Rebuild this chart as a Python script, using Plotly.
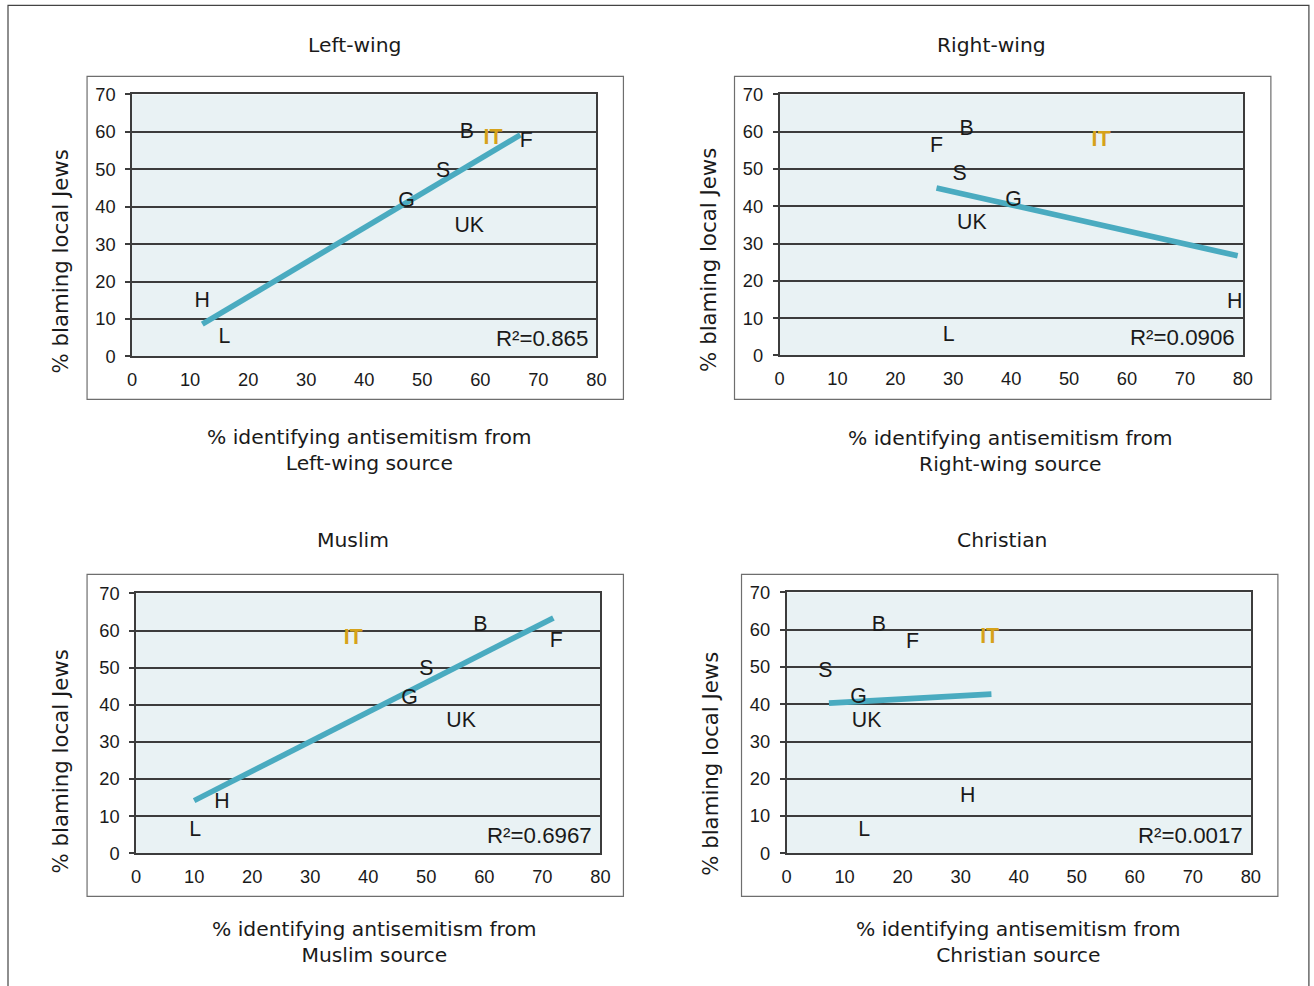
import plotly.graph_objects as go

# Layout is specified in target-image pixels; to_fig_* convert those into
# figure pixels for the page placement/scaling used by the renderer.
SX, SY = 0.988, 0.979
BX, BY = 5.0, 9.6
W, H = 1326, 998
K = 1 / 0.985  # size factor for fonts and strokes

# ---- data -------------------------------------------------------------
countries = ["B", "IT", "F", "S", "G", "UK", "H", "L"]

left_x = [57.7, 62.2, 67.9, 53.6, 47.3, 58.1, 12.1, 15.9]
left_y = [59.8, 58.2, 57.4, 49.4, 41.4, 34.7, 14.7, 5.1]
left_trend_x = [12.1, 66.9]
left_trend_y = [8.6, 59.2]

right_x = [32.3, 55.5, 27.1, 31.1, 40.4, 33.2, 78.6, 29.2]
right_y = [60.6, 57.5, 56.1, 48.4, 41.4, 35.3, 14.2, 5.3]
right_trend_x = [27.1, 79.1]
right_trend_y = [44.9, 26.7]

muslim_x = [59.3, 37.4, 72.4, 50.0, 47.1, 56.0, 14.8, 10.2]
muslim_y = [61.3, 57.8, 57.0, 49.5, 41.7, 35.5, 13.7, 6.2]
muslim_trend_x = [10.0, 71.9]
muslim_trend_y = [14.2, 63.4]

christian_x = [15.9, 35.0, 21.7, 6.7, 12.4, 13.8, 31.2, 13.4]
christian_y = [61.1, 57.9, 56.6, 48.8, 41.8, 35.4, 15.3, 6.2]
christian_trend_x = [7.3, 35.3]
christian_trend_y = [40.3, 42.7]

r2_labels = ["R\u00b2=0.865", "R\u00b2=0.0906", "R\u00b2=0.6967", "R\u00b2=0.0017"]
titles = ["Left-wing", "Right-wing", "Muslim", "Christian"]
sources = ["Left-wing", "Right-wing", "Muslim", "Christian"]
y_title = "% blaming local Jews"

# ---- layout geometry (image pixels) -----------------------------------
panels = [
    dict(x=left_x, y=left_y, tx=left_trend_x, ty=left_trend_y,
         plot=(132, 596, 93, 355), box=(87, 623, 75, 398),
         title=(354, 44), xt=(369, 435), yt=(60, 260)),
    dict(x=right_x, y=right_y, tx=right_trend_x, ty=right_trend_y,
         plot=(779, 1242, 93, 354), box=(734, 1270, 75, 398),
         title=(991, 44), xt=(1010, 436), yt=(708, 258)),
    dict(x=muslim_x, y=muslim_y, tx=muslim_trend_x, ty=muslim_trend_y,
         plot=(136, 600, 592, 852), box=(87, 623, 573, 895),
         title=(353, 539), xt=(374, 927), yt=(60, 760)),
    dict(x=christian_x, y=christian_y, tx=christian_trend_x, ty=christian_trend_y,
         plot=(786, 1250, 591, 852), box=(741, 1277, 573, 895),
         title=(1001, 539), xt=(1018, 927), yt=(710, 762)),
]

FONT = "Liberation Sans, Arial, sans-serif"
TITLE_FONT = "DejaVu Sans, sans-serif"
INK = "#1a1a1a"
TEAL = "#4aabc0"
GOLD = "#d6a21a"
PLOT_BG = "#e9f2f4"
GRID = "#3c3c3c"


def px(xp):
    return ((xp - BX) / SX) / W


def py(yp):
    return 1 - ((yp - BY) / SY) / H


def fs(size):
    return round(size * K, 1)


fig = go.Figure()
shapes = []
annotations = []

for i, p in enumerate(panels):
    n = "" if i == 0 else str(i + 1)
    xa, ya = "x" + n, "y" + n
    labels = ["<b>%s</b>" % c if c == "IT" else c for c in countries]
    colors = [GOLD if c == "IT" else INK for c in countries]

    fig.add_trace(go.Scatter(
        x=p["tx"], y=p["ty"], mode="lines", xaxis=xa, yaxis=ya,
        line=dict(color=TEAL, width=fs(5.5)), hoverinfo="skip", showlegend=False))
    fig.add_trace(go.Scatter(
        x=p["x"], y=p["y"], mode="text", text=labels, xaxis=xa, yaxis=ya,
        textposition="middle center",
        textfont=dict(family=FONT, size=fs(21), color=colors),
        showlegend=False))

    x0, x1, y0, y1 = p["plot"]
    axis_font = dict(family=FONT, size=fs(18), color=INK)
    fig.update_layout({
        "xaxis" + n: dict(domain=[px(x0), px(x1)], range=[0, 80], dtick=10,
                          showgrid=False, zeroline=False, anchor=ya,
                          showline=True, linecolor=GRID, linewidth=1.5, mirror=True,
                          ticks="", ticklabelstandoff=6, tickfont=axis_font,
                          fixedrange=True),
        "yaxis" + n: dict(domain=[py(y1), py(y0)], range=[0, 70], dtick=10,
                          showgrid=True, gridcolor=GRID, gridwidth=1.5,
                          zeroline=False, anchor=xa,
                          showline=True, linecolor=GRID, linewidth=1.5, mirror=True,
                          ticks="outside", ticklen=5, tickcolor=GRID, tickwidth=1.5,
                          ticklabelstandoff=6, tickfont=axis_font,
                          fixedrange=True),
    })

    # plot-area background
    shapes.append(dict(type="rect", xref=xa + " domain", yref=ya + " domain",
                       x0=0, x1=1, y0=0, y1=1, fillcolor=PLOT_BG,
                       line=dict(width=0), layer="below"))
    # chart frame
    bx0, bx1, by0, by1 = p["box"]
    shapes.append(dict(type="rect", xref="paper", yref="paper",
                       x0=px(bx0), x1=px(bx1), y0=py(by1), y1=py(by0),
                       line=dict(color="#6e6e6e", width=1.2), layer="below"))

    tx, ty = p["title"]
    annotations.append(dict(text=titles[i], xref="paper", yref="paper",
                            x=px(tx), y=py(ty), showarrow=False,
                            xanchor="center", yanchor="middle",
                            font=dict(family=TITLE_FONT, size=fs(20), color=INK)))
    ax, ay = p["xt"]
    annotations.append(dict(text="% identifying antisemitism from<br>" + sources[i] + " source",
                            xref="paper", yref="paper", x=px(ax), y=py(ay - 13),
                            showarrow=False, xanchor="center", yanchor="top",
                            align="center",
                            font=dict(family=TITLE_FONT, size=fs(20), color=INK)))
    yx, yy = p["yt"]
    annotations.append(dict(text=y_title, xref="paper", yref="paper",
                            x=px(yx), y=py(yy), showarrow=False, textangle=-90,
                            xanchor="center", yanchor="middle",
                            font=dict(family=TITLE_FONT, size=fs(21), color=INK)))
    annotations.append(dict(text=r2_labels[i], xref=xa + " domain", yref=ya + " domain",
                            x=1, y=0.07, xshift=-6, showarrow=False,
                            xanchor="right", yanchor="middle",
                            font=dict(family=FONT, size=fs(22), color=INK)))

# outer frame
shapes.append(dict(type="rect", xref="paper", yref="paper",
                   x0=px(8), x1=px(1308), y0=py(1000), y1=py(4),
                   line=dict(color="#444444", width=1.2), layer="below"))

fig.update_layout(width=W, height=H, margin=dict(l=0, r=0, t=0, b=0),
                  paper_bgcolor="white", plot_bgcolor="rgba(0,0,0,0)",
                  shapes=shapes, annotations=annotations,
                  font=dict(family=FONT, color=INK))

fig.write_html("out.html")
